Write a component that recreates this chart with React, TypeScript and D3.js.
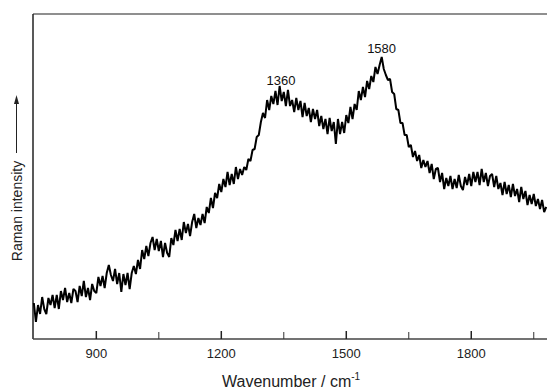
import React, { useEffect, useRef } from "react";
import * as d3 from "d3";

// Raman spectrum, sampled every 5 cm^-1 from 750 cm^-1
const startWavenumber = 750;
const stepWavenumber = 5;
const intensity: number[] = [
  36, 17, 34, 25, 42, 30, 25, 41, 34, 44,
  31, 44, 30, 48, 39, 51, 37, 46, 36, 50,
  48, 37, 53, 43, 58, 42, 51, 39, 55, 48,
  46, 62, 53, 63, 51, 66, 74, 64, 58, 70,
  55, 66, 47, 65, 54, 66, 50, 66, 73, 65,
  79, 70, 89, 80, 93, 83, 96, 102, 89, 100,
  88, 98, 82, 96, 86, 82, 101, 94, 109, 98,
  110, 99, 117, 106, 115, 103, 117, 125, 111, 121,
  114, 125, 116, 132, 126, 141, 131, 146, 141, 155,
  147, 160, 152, 167, 154, 165, 155, 172, 160, 170,
  164, 172, 169, 180, 178, 189, 190, 202, 204, 217,
  226, 221, 239, 229, 243, 235, 248, 234, 253, 238,
  247, 233, 249, 233, 239, 227, 241, 229, 238, 222,
  236, 223, 231, 217, 230, 220, 229, 213, 223, 210,
  220, 205, 221, 208, 217, 195, 220, 205, 217, 206,
  224, 216, 232, 220, 235, 229, 248, 239, 252, 242,
  258, 250, 263, 257, 272, 265, 274, 282, 270, 264,
  259, 260, 247, 245, 230, 229, 216, 216, 204, 204,
  192, 194, 182, 188, 178, 184, 171, 179, 172, 178,
  166, 175, 160, 170, 171, 157, 166, 150, 161, 153,
  163, 150, 160, 151, 164, 153, 149, 162, 154, 165,
  153, 167, 157, 167, 154, 170, 157, 166, 153, 163,
  165, 152, 163, 150, 156, 144, 157, 145, 154, 142,
  155, 143, 150, 137, 152, 140, 148, 134, 144, 135,
  145, 133, 140, 130, 139, 127, 132,
];

const majorTicks = [900, 1200, 1500, 1800];
const minorTicks = [1050, 1350, 1650, 1950];
const peakPositions = [1360, 1580];
const peakLabels = ["1360", "1580"];
const peakHeights = [253, 282];

const W = 547;
const H = 390;
const left = 33;
const right = 560;
const top = 14;
const bottom = 339;
const font = "Arial, 'Liberation Sans', Helvetica, sans-serif";

export default function App() {
  const ref = useRef<SVGSVGElement>(null);

  useEffect(() => {
    const svg = d3.select(ref.current);
    svg.selectAll("*").remove();

    const x = d3.scaleLinear().domain([748, 2013]).range([left, right]);
    const y = d3.scaleLinear().domain([0, 325]).range([bottom, top]);

    const points = intensity.map((v, i) => [startWavenumber + i * stepWavenumber, v] as [number, number]);

    // frame: left, bottom, top (right side runs past the view)
    svg.append("line").attr("x1", left).attr("x2", right).attr("y1", top).attr("y2", top)
      .attr("stroke", "#6a6a6a").attr("stroke-width", 1.5);
    svg.append("line").attr("x1", left).attr("x2", left).attr("y1", top).attr("y2", bottom)
      .attr("stroke", "#222").attr("stroke-width", 1.5);
    svg.append("line").attr("x1", left).attr("x2", right).attr("y1", bottom).attr("y2", bottom)
      .attr("stroke", "#444").attr("stroke-width", 1.5);

    // inward ticks
    const tickG = svg.append("g");
    majorTicks.forEach((t) => {
      tickG.append("line").attr("x1", x(t)).attr("x2", x(t)).attr("y1", bottom).attr("y2", bottom - 8)
        .attr("stroke", "#222").attr("stroke-width", 1.5);
      tickG.append("text").attr("x", x(t)).attr("y", 358).attr("text-anchor", "middle")
        .attr("font-family", font).attr("font-size", 13).attr("fill", "#222").text(String(t));
    });
    minorTicks.forEach((t) => {
      tickG.append("line").attr("x1", x(t)).attr("x2", x(t)).attr("y1", bottom).attr("y2", bottom - 7)
        .attr("stroke", "#333").attr("stroke-width", 1);
    });

    // spectrum
    const line = d3.line<[number, number]>().x((d) => x(d[0])).y((d) => y(d[1]));
    svg.append("path").datum(points).attr("d", line).attr("fill", "none")
      .attr("stroke", "#000").attr("stroke-width", 2).attr("stroke-linejoin", "bevel");

    // peak annotations
    const labelDx = [-7, 2];
    const labelDy = [1, 4];
    peakPositions.forEach((p, i) => {
      svg.append("text").attr("x", x(p) + labelDx[i]).attr("y", y(peakHeights[i]) - labelDy[i])
        .attr("text-anchor", "middle").attr("font-family", font).attr("font-size", 13)
        .attr("fill", "#111").text(peakLabels[i]);
    });

    // x title with superscript
    const xt = svg.append("text").attr("x", 222).attr("y", 387).attr("font-family", font)
      .attr("font-size", 16).attr("fill", "#222");
    xt.append("tspan").text("Wavenumber / cm");
    xt.append("tspan").attr("dy", -7).attr("font-size", 10).text("-1");

    // y title with arrow
    svg.append("text").attr("transform", "translate(22,211) rotate(-90)").attr("text-anchor", "middle")
      .attr("font-family", font).attr("font-size", 14).attr("fill", "#222").text("Raman intensity");
    svg.append("line").attr("x1", 16.5).attr("x2", 16.5).attr("y1", 153).attr("y2", 100)
      .attr("stroke", "#222").attr("stroke-width", 1);
    svg.append("path").attr("d", "M16.5,95 L14,104 L19,104 Z").attr("fill", "#222");
  }, []);

  return (
    <svg ref={ref} width={W} height={H}
      style={{ position: "absolute", left: 0, top: 0, background: "#fff", overflow: "hidden" }} />
  );
}
